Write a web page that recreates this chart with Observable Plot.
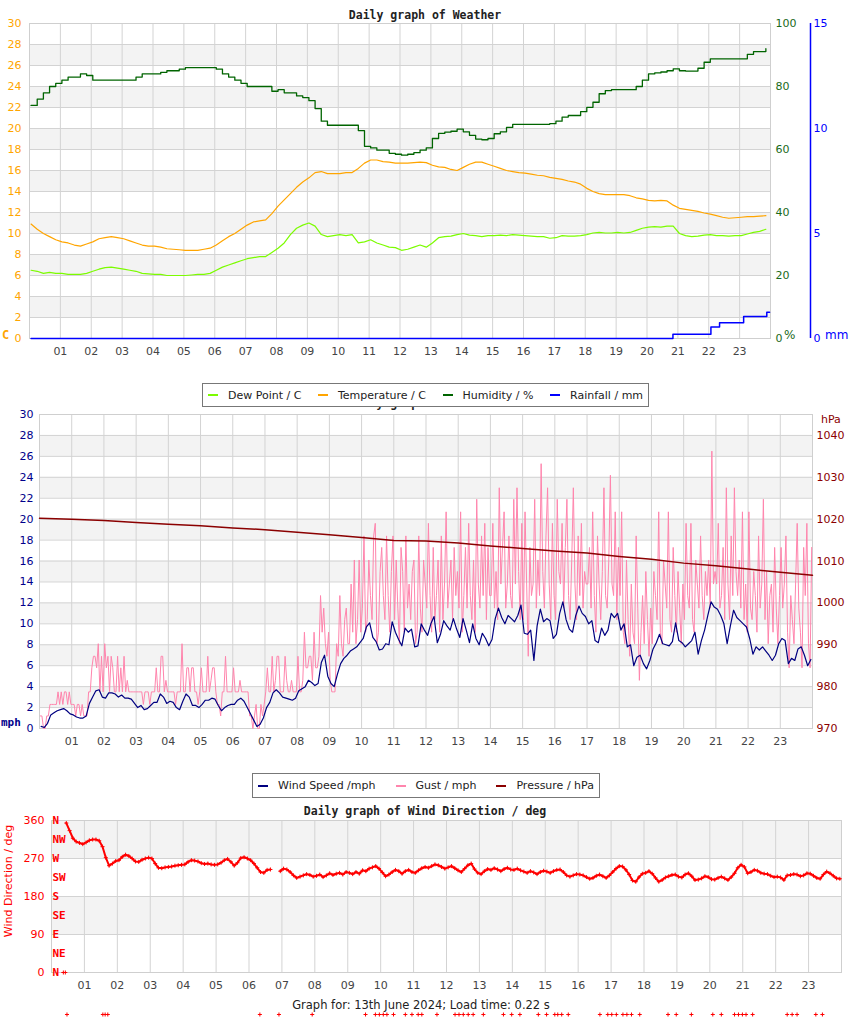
<!DOCTYPE html>
<html>
<head>
<meta charset="utf-8">
<script src="https://cdn.jsdelivr.net/npm/d3@7"></script>
<script src="https://cdn.jsdelivr.net/npm/@observablehq/plot@0.6"></script>
<style>
  body { margin: 0; background: white; }
  #root { position: relative; width: 850px; height: 1017px; overflow: hidden; background: white; font-family: "DejaVu Sans", sans-serif; }
  #root svg { position: absolute; left: 0; }
  .abs { position: absolute; white-space: nowrap; line-height: 1; }
  .legend { position: absolute; display: flex; align-items: center; border: 1px solid #777; background: white; font-size: 11px; color: #222; padding: 0 5px; box-sizing: border-box; z-index: 5; }
  .legend .sw { display: inline-block; width: 10px; height: 2px; margin-right: 10px; }
  .legend .it { display: flex; align-items: center; }
</style>
</head>
<body>
<div id="root"></div>
<script>
// ---------------- DATA ----------------
const hourTicks = [1,2,3,4,5,6,7,8,9,10,11,12,13,14,15,16,17,18,19,20,21,22,23];

// Chart 1: weather (samples every 0.2 h starting at 0.05 h)
const wxStart = 0.05, wxStep = 0.2;
const temperature = [
  10.9,10.4,10.0,9.7,9.4,   9.2,9.1,8.9,8.8,9.0,   9.2,9.5,9.6,9.7,9.6,   9.5,9.3,9.1,8.9,8.8,
  8.8,8.7,8.55,8.5,8.45,   8.4,8.4,8.4,8.5,8.6,   8.9,9.3,9.7,10.0,10.4,   10.8,11.1,11.2,11.3,11.9,
  12.6,13.2,13.8,14.4,14.9,   15.3,15.8,15.9,15.7,15.7,   15.7,15.8,15.8,16.2,16.7,   17.0,17.0,16.85,16.8,16.7,
  16.7,16.7,16.75,16.8,16.75,   16.5,16.35,16.3,16.1,16.0,   16.3,16.6,16.8,16.8,16.6,   16.4,16.2,16.0,15.9,15.8,
  15.75,15.65,15.55,15.5,15.35,   15.25,15.15,15.0,14.9,14.7,   14.3,14.0,13.8,13.7,13.7,   13.7,13.7,13.6,13.4,13.3,
  13.15,13.1,13.15,13.1,12.7,   12.4,12.3,12.2,12.1,11.95,   11.85,11.7,11.55,11.45,11.5,   11.55,11.6,11.6,11.65,11.7
];
const dewPoint = [
  6.5,6.4,6.2,6.3,6.2,   6.2,6.1,6.1,6.1,6.2,   6.4,6.6,6.75,6.8,6.7,   6.6,6.5,6.4,6.2,6.15,
  6.1,6.1,6.0,6.0,6.0,   6.0,6.05,6.1,6.1,6.2,   6.5,6.8,7.0,7.2,7.4,   7.6,7.7,7.8,7.8,8.2,
  8.6,9.1,9.9,10.5,10.8,   11.0,10.7,9.9,9.7,9.8,   9.9,9.8,9.9,9.1,9.2,   9.4,9.1,8.9,8.7,8.65,
  8.4,8.5,8.7,8.9,8.7,   9.1,9.6,9.7,9.75,9.9,   10.0,9.85,9.8,9.7,9.8,   9.8,9.85,9.8,9.9,9.85,
  9.8,9.75,9.7,9.7,9.55,   9.6,9.8,9.75,9.75,9.8,   9.9,10.05,10.1,10.05,10.05,   10.1,10.05,10.1,10.3,10.5,
  10.6,10.65,10.6,10.7,10.7,   10.0,9.8,9.7,9.75,9.85,   9.9,9.8,9.8,9.75,9.8,   9.8,9.95,10.1,10.2,10.4
];
const humidity = [
  74,76,78,80,81,   82,83,83,84,83.5,   82,82,82,82,82,   82,82,83,84,84,
  84,84.5,85,85,85.5,   86,86,86,86,86,   85.5,84,83,82,81,   80,80,80,80,78.5,
  79,78,78,77,76.5,   75.5,73,69,67.7,67.7,   67.7,67.7,67.7,66,61,   60.5,59.8,59.8,58.8,58.5,
  58.2,58.5,59,59.8,60.5,   63.5,65.1,65.5,65.8,66.5,   65.6,64.5,63.3,63.1,63.5,   65,65.6,67,68,68,
  68,68,68,68,68.2,   69,70.3,70.8,70.8,72,   73.4,75,77.7,78.7,79,   79,79,79,80,82,
  84,84.3,84.6,85,85.6,   85,84.9,84.9,85.8,87.7,   88.8,88.8,88.8,88.8,88.8,   88.8,90.2,91.1,91.1,92
];
const rainHours = [0.05, 20.84, 22.07, 22.35, 23.13, 23.88, 23.97];
const rainMm    = [0,    0.2,   0.55,  0.75,  1.05,  1.25,  1.25];

const tempTicks = [0,2,4,6,8,10,12,14,16,18,20,22,24,26,28,30];
const humTicks = [0,20,40,60,80,100];
const rainTicks = [0,5,10,15];

// Chart 2: wind speed (samples every 0.1 h starting at 0.05 h)
const windStart = 0.05, windStep = 0.1;
const windSpeed = [
  0.2,0.1,0.5,1.3,1.5,1.7,1.8,1.9,1.7,1.4,
  1.3,1.1,1.0,1.0,1.2,2.4,3.0,3.6,3.7,3.0,
  2.9,3.4,3.4,3.3,3.0,3.2,2.9,2.9,2.8,2.4,
  2.0,2.2,1.8,1.9,2.2,2.5,2.5,3.3,3.0,2.4,
  2.6,2.5,2.0,1.8,2.6,3.3,3.0,2.2,2.2,2.0,
  2.3,2.7,2.7,2.9,2.8,2.2,1.7,2.0,2.2,2.3,
  2.3,2.7,2.9,2.6,2.0,1.4,0.8,0.2,0.4,1.0,
  2.0,2.5,3.4,3.7,3.4,3.0,2.9,2.8,2.7,2.9,
  3.6,3.8,4.0,4.6,4.4,4.1,4.3,6.3,7.0,5.0,
  4.3,4.0,5.2,6.2,6.7,7.0,7.4,7.6,7.8,8.2,
  8.6,9.7,10.1,8.7,8.3,7.5,7.6,8.1,8.0,10.2,
  9.2,8.5,7.9,9.6,9.2,9.5,7.8,7.9,10.0,9.4,
  8.9,10.0,10.7,8.2,9.0,10.3,9.8,9.4,10.5,9.5,
  8.7,10.5,9.4,8.2,10.0,8.6,8.0,9.1,8.6,7.9,
  8.5,10.5,11.5,10.6,10.0,10.8,10.5,10.2,10.8,11.8,
  9.1,9.0,9.4,6.5,9.8,11.4,10.2,10.5,10.3,8.6,
  9.0,11.0,12.1,10.4,9.5,9.2,10.8,11.7,11.0,10.7,
  10.0,10.3,8.4,8.2,9.6,8.9,9.4,11.0,10.6,11.0,
  9.4,10.0,7.8,8.0,6.0,6.8,7.0,6.2,5.7,6.5,
  7.6,8.2,9.0,8.1,8.0,7.9,8.3,10.1,8.4,8.2,
  7.8,8.1,8.4,9.2,7.1,8.4,9.4,10.8,12.1,11.6,
  11.4,10.8,10.0,8.1,9.8,11.3,10.6,10.3,10.0,9.7,
  8.6,7.1,7.8,7.5,7.8,7.4,7.0,6.5,7.0,8.1,
  8.6,8.4,6.2,6.7,6.5,7.6,7.8,7.0,6.0,6.6
];
// Gust (samples every 0.05 h starting at 0.025 h), one row per hour
const gustStart = 0.025, gustStep = 0.05;
const gust = [
  1.2,1.2,0,0,1.2,1.2,2.3,2.3,2.3,2.3, 2.3,3.5,2.3,3.5,2.3,3.5,3.5,2.3,3.5,2.3,
  2.3,2.3,1.2,2.3,2.3,1.2,2.3,1.2,1.2,1.2, 3.5,3.5,5.8,6.9,6.9,5.8,8.1,3.5,6.9,3.5,
  8.1,5.8,6.9,3.5,6.9,5.8,3.5,3.5,6.9,3.5, 5.8,3.5,6.9,3.5,4.6,3.5,3.5,3.5,3.5,3.5,
  3.5,3.5,3.5,3.5,2.3,3.5,3.5,3.5,2.3,3.5, 3.5,3.5,5.8,3.5,3.5,6.9,6.9,3.5,4.6,3.5,
  3.5,3.5,3.5,3.5,2.3,3.5,3.5,3.5,8.1,3.5, 3.5,5.8,5.8,3.5,5.8,5.8,3.5,3.5,2.3,3.5,
  5.8,3.5,3.5,3.5,6.9,3.5,4.6,5.8,5.8,3.5, 2.3,2.3,1.2,3.5,3.5,6.9,3.5,3.5,3.5,3.5,
  5.8,3.5,3.5,3.5,4.6,3.5,3.5,3.5,3.5,3.5, 1.2,1.2,0,1.2,2.3,0,0,2.3,1.2,2.3,
  3.5,5.8,3.5,3.5,6.9,3.5,4.6,6.9,6.9,3.5, 3.5,3.5,6.9,4.6,3.5,3.5,4.6,3.5,3.5,3.5,
  6.9,3.5,3.5,4.6,9.2,5.8,5.8,6.9,6.9,4.6, 9.2,5.8,5.8,6.9,12.7,9.2,11.5,8.1,6.9,9.2,
  4.6,3.5,3.5,3.5,8.1,6.9,12.7,8.1,6.9,10.4, 11.5,8.1,8.1,13.8,9.2,16.1,8.1,10.4,16.1,9.2,
  11.5,18.4,9.2,10.4,16.1,12.7,10.4,18.4,19.6,8.1, 9.2,15.0,17.3,12.7,10.4,18.4,12.7,9.2,15.0,18.4,
  10.4,16.1,11.5,8.1,17.3,15.0,9.2,18.4,11.5,13.8, 10.4,15.0,16.1,8.1,9.2,18.4,11.5,9.2,16.1,13.8,
  11.5,19.6,12.7,9.2,17.3,10.4,12.7,16.1,9.2,18.4, 10.4,13.8,20.7,11.5,13.8,16.1,10.4,17.3,12.7,15.0,
  11.5,20.7,9.2,12.7,17.3,11.5,19.6,12.7,10.4,16.1, 9.2,21.9,13.8,11.5,18.4,12.7,19.6,10.4,17.3,12.7,
  12.7,19.6,11.5,15.0,10.4,23.0,13.8,17.3,20.7,11.5, 13.8,18.4,12.7,11.5,21.9,13.8,23.0,15.0,10.4,19.6,
  10.4,20.7,13.8,6.9,17.3,12.7,13.8,21.9,11.5,16.1, 12.7,25.3,15.0,11.5,18.4,23.0,13.8,10.4,19.6,12.7,
  10.4,21.9,15.0,13.8,19.6,11.5,17.3,21.9,12.7,10.4, 16.1,23.0,13.8,10.4,18.4,12.7,19.6,11.5,15.0,13.8,
  13.8,17.3,11.5,20.7,12.7,9.2,18.4,13.8,10.4,15.0, 23.0,12.7,11.5,16.1,24.2,13.8,12.7,20.7,10.4,17.3,
  12.7,20.7,9.2,8.1,16.1,10.4,6.9,13.8,9.2,8.1, 18.4,11.5,4.6,9.2,12.7,8.1,15.0,10.4,6.9,11.5,
  8.1,15.0,12.7,10.4,20.7,9.2,8.1,16.1,13.8,11.5, 20.7,10.4,9.2,17.3,12.7,9.2,15.0,11.5,8.1,13.8,
  10.4,19.6,12.7,11.5,19.6,10.4,9.2,16.1,13.8,11.5, 18.4,12.7,10.4,15.0,12.7,16.1,11.5,26.5,13.8,15.0,
  13.8,19.6,11.5,12.7,17.3,10.4,23.0,13.8,10.4,18.4, 12.7,23.0,15.0,12.7,16.1,11.5,20.7,10.4,13.8,9.2,
  20.7,11.5,10.4,15.0,12.7,9.2,18.4,11.5,13.8,21.9, 10.4,15.0,8.1,12.7,13.8,9.2,17.3,11.5,8.1,12.7,
  17.3,11.5,13.8,18.4,9.2,5.8,12.7,10.4,8.1,13.8, 19.6,11.5,9.2,5.8,17.3,12.7,19.6,8.1,5.8,17.3
];
// pressure, hourly 0..24
const pressure = [1020.2,1020.0,1019.7,1019.2,1018.8,1018.4,1017.9,1017.5,1016.9,1016.3,1015.6,1014.9,1014.8,
                  1014.3,1013.6,1013.0,1012.4,1011.9,1011.1,1010.4,1009.5,1008.9,1008.1,1007.3,1006.6];
const mphTicks = [0,2,4,6,8,10,12,14,16,18,20,22,24,26,28,30];
const hPaTicks = [970,980,990,1000,1010,1020,1030,1040];

// Chart 3: wind direction (samples every 0.1 h starting at 0.05 h)
const dirStart = 0.05, dirStep = 0.1;
const windDir = [
  null,null,null,null,354,336,318,310,307,304,
  308,313,315,315,312,298,272,253,258,264,
  266,274,279,276,270,263,262,267,270,272,
  270,258,248,247,249,250,251,253,254,255,
  256,262,266,265,263,259,257,258,256,255,
  256,260,266,269,262,253,260,271,273,270,
  266,258,248,238,236,243,244,null,null,240,
  246,244,238,230,224,227,230,233,231,227,
  229,232,226,230,235,231,234,236,232,238,
  236,233,238,234,242,240,246,249,252,246,
  237,228,232,238,243,240,234,240,243,238,
  236,242,247,250,248,252,256,254,250,246,
  249,252,247,242,238,246,254,258,245,236,
  233,240,245,243,247,244,240,245,248,244,
  243,246,242,239,236,240,237,233,238,241,
  239,236,240,243,244,238,230,227,230,233,
  232,230,226,222,224,229,232,228,224,230,
  238,246,252,251,243,232,218,215,226,234,
  236,240,234,224,215,219,225,228,231,232,
  227,225,232,235,228,219,220,223,228,226,
  221,220,224,227,223,219,226,235,248,255,
  250,235,238,243,241,236,234,233,229,226,
  227,225,219,230,231,233,232,228,230,235,
  234,229,224,222,232,239,235,229,223,222
];
const calmAtZeroHours = [0.36, 0.42];
const calmHours = [0.47,1.56,1.63,1.71,6.33,6.91,7.92,9.54,9.84,9.96,10.08,10.19,10.39,10.75,10.95,11.14,11.25,
  11.71,12.26,12.38,12.51,12.66,12.81,13.12,13.73,13.98,14.23,14.79,15.04,15.29,15.38,15.5,15.7,16.66,16.9,
  17.02,17.16,17.36,17.48,17.62,17.87,18.73,18.98,19.44,20.09,20.35,20.75,20.87,20.99,21.1,21.3,22.35,22.5,
  22.65,23.22,23.42];
const dirTicks = [0,90,180,270,360];
const compass = ["N","NE","E","SE","S","SW","W","NW","N"];

// ---------------- BUILD ----------------
const series = (start, step, vals) => vals.map((v, i) => ({h: start + i * step, v}));
const tempS = series(wxStart, wxStep, temperature);
const dewS = series(wxStart, wxStep, dewPoint);
const humS = series(wxStart, wxStep, humidity);
const rainS = rainHours.map((h, i) => ({h, v: rainMm[i]}));
const windS = series(windStart, windStep, windSpeed);
const gustS = series(gustStart, gustStep, gust);
const presS = pressure.map((v, i) => ({h: i, v}));
const dirAll = series(dirStart, dirStep, windDir);
const dirS = dirAll.filter(d => d.v !== null);
// leading nulls removed for the line, interior nulls kept so the line breaks at the gap
const dirLine = dirAll.slice(dirAll.findIndex(d => d.v !== null));

const bandsFrom = (ticks, every) => ticks.slice(0, -1).map((t, i) => [t, ticks[i + 1], i]).filter(d => d[2] % 2 === every);
const hourFmt = d => String(d).padStart(2, "0");
const gridStroke = "#d3d3d3";
const baseStyle = {fontFamily: "DejaVu Sans, sans-serif", fontSize: "11px", background: "transparent", overflow: "visible"};

const root = document.getElementById("root");
function place(svg, top) { svg.style.top = top + "px"; root.appendChild(svg); }

// Chart 1
const c1 = Plot.plot({
  width: 850, height: 370, marginTop: 23, marginBottom: 32, marginLeft: 29, marginRight: 80,
  style: baseStyle,
  x: {domain: [0, 24]},
  y: {domain: [0, 30], label: null},
  marks: [
    Plot.rect(bandsFrom(tempTicks, 1), {x1: 0, x2: 24, y1: d => d[0], y2: d => d[1], fill: "#f3f3f3"}),
    Plot.gridY(tempTicks, {stroke: gridStroke, strokeOpacity: 1}),
    Plot.gridX(hourTicks, {stroke: gridStroke, strokeOpacity: 1}),
    Plot.frame({stroke: "#cfcfcf"}),
    Plot.axisY(tempTicks, {anchor: "left", tickSize: 0, tickPadding: 8, color: "#ffa500", label: null}),
    Plot.axisY(humTicks.map(h => h * 0.3), {anchor: "right", tickSize: 0, tickPadding: 5, color: "#1a6b1a", tickFormat: d => String(Math.round(d / 0.3)), label: null}),
    Plot.axisY(rainTicks.map(r => r * 2), {anchor: "right", tickSize: 0, tickPadding: 3, dx: 40, color: "#0000ff", tickFormat: d => String(d / 2), label: null}),
    Plot.ruleX([24], {y1: 0, y2: 30, dx: 40, stroke: "#0000ff", strokeWidth: 1.5}),
    Plot.axisX(hourTicks, {anchor: "bottom", tickSize: 0, tickPadding: 9, color: "#444", tickFormat: hourFmt, label: null}),
    Plot.line(dewS, {x: "h", y: "v", stroke: "#7cfc00", strokeWidth: 1.2}),
    Plot.line(tempS, {x: "h", y: "v", stroke: "#ffa500", strokeWidth: 1.2}),
    Plot.line(humS, {x: "h", y: d => d.v * 0.3, stroke: "#006400", strokeWidth: 1.3, curve: "step-after"}),
    Plot.line(rainS, {x: "h", y: d => d.v * 2, stroke: "#0000ff", strokeWidth: 1.5, curve: "step-after"})
  ]
});
place(c1, 0);

// Chart 2
const c2 = Plot.plot({
  width: 850, height: 370, marginTop: 23, marginBottom: 33, marginLeft: 39, marginRight: 38,
  style: baseStyle,
  x: {domain: [0, 24]},
  y: {domain: [0, 30], label: null},
  marks: [
    Plot.rect(bandsFrom(mphTicks, 1), {x1: 0, x2: 24, y1: d => d[0], y2: d => d[1], fill: "#f3f3f3"}),
    Plot.gridY(mphTicks, {stroke: gridStroke, strokeOpacity: 1}),
    Plot.gridX(hourTicks, {stroke: gridStroke, strokeOpacity: 1}),
    Plot.frame({stroke: "#cfcfcf"}),
    Plot.axisY(mphTicks, {anchor: "left", tickSize: 0, tickPadding: 6, color: "#00008b", label: null}),
    Plot.axisY(hPaTicks.map(p => (p - 970) * 0.4), {anchor: "right", tickSize: 0, tickPadding: 4, color: "#8b0000", tickFormat: d => String(Math.round(d / 0.4 + 970)), label: null}),
    Plot.axisX(hourTicks, {anchor: "bottom", tickSize: 0, tickPadding: 9, color: "#444", tickFormat: hourFmt, label: null}),
    Plot.line(gustS, {x: "h", y: "v", stroke: "#ff85ad", strokeWidth: 1}),
    Plot.line(windS, {x: "h", y: "v", stroke: "#000080", strokeWidth: 1.2}),
    Plot.line(presS, {x: "h", y: d => (d.v - 970) * 0.4, stroke: "#8b0000", strokeWidth: 1.5})
  ]
});
place(c2, 391);

// Chart 3
const c3 = Plot.plot({
  width: 850, height: 217, marginTop: 20, marginBottom: 45, marginLeft: 51, marginRight: 9,
  style: baseStyle,
  x: {domain: [0, 24]},
  y: {domain: [0, 360], label: null},
  marks: [
    Plot.rect(bandsFrom(dirTicks, 1), {x1: 0, x2: 24, y1: d => d[0], y2: d => d[1], fill: "#f3f3f3"}),
    Plot.gridY(dirTicks, {stroke: gridStroke, strokeOpacity: 1}),
    Plot.gridX(hourTicks, {stroke: gridStroke, strokeOpacity: 1}),
    Plot.frame({stroke: "#cfcfcf"}),
    Plot.axisY(dirTicks, {anchor: "left", tickSize: 0, tickPadding: 7, color: "#ff0000", label: null}),
    Plot.axisX(hourTicks, {anchor: "bottom", tickSize: 0, tickPadding: 9, color: "#444", tickFormat: hourFmt, label: null}),
    Plot.text(compass, {frameAnchor: "left", y: (d, i) => i * 45, text: d => d, textAnchor: "start", dx: 1,
      fill: "#ff0000", fontWeight: "bold", fontFamily: "DejaVu Sans Mono, monospace", fontSize: 11}),
    Plot.line(dirLine, {x: "h", y: "v", stroke: "#ff0000", strokeWidth: 2}),
    Plot.dot(dirS, {x: "h", y: "v", symbol: "plus", r: 1.4, stroke: "#ff0000", strokeWidth: 1}),
    Plot.dot(calmAtZeroHours, {x: d => d, y: 0, symbol: "plus", r: 1.4, stroke: "#ff0000", strokeWidth: 1}),
    Plot.dot(calmHours, {x: d => d, y: 0, dy: 42, symbol: "plus", r: 1.4, stroke: "#ff0000", strokeWidth: 1})
  ]
});
place(c3, 800);

// ---------------- HTML texts / legends ----------------
function addText(html, style) {
  const d = document.createElement("div");
  d.className = "abs";
  d.innerHTML = html;
  Object.assign(d.style, style);
  root.appendChild(d);
  return d;
}
const titleFont = "bold 11.5px 'DejaVu Sans Mono', monospace";
addText("Daily graph of Weather", {left: "0", width: "850px", textAlign: "center", top: "8px", font: titleFont, color: "#222"});
addText("Daily graph of Weather", {left: "0", width: "850px", textAlign: "center", top: "396px", font: titleFont, color: "#222"});
addText("Daily graph of Wind Direction / deg", {left: "0", width: "850px", textAlign: "center", top: "804px", font: titleFont, color: "#222", zIndex: 3});

addText("C", {left: "2px", top: "328px", font: "bold 12px 'DejaVu Sans Mono', monospace", color: "#ffa500"});
addText("%", {left: "784px", top: "328px", font: "12px 'DejaVu Sans', sans-serif", color: "#1a6b1a"});
addText("mm", {left: "825px", top: "328px", font: "12px 'DejaVu Sans', sans-serif", color: "#0000ff"});
addText("hPa", {left: "821px", top: "413px", font: "11px 'DejaVu Sans', sans-serif", color: "#8b0000"});
addText("mph", {left: "1px", top: "716px", font: "bold 11px 'DejaVu Sans Mono', monospace", color: "#00008b"});
addText("Wind Direction / deg", {left: "8px", top: "881px", font: "11px 'DejaVu Sans', sans-serif", color: "#ff0000",
  transform: "translate(-50%, -50%) rotate(-90deg)", transformOrigin: "center"});
addText("Graph for: 13th June 2024; Load time: 0.22 s", {left: "0", width: "842px", textAlign: "center", top: "998px", font: "11.5px 'DejaVu Sans', sans-serif", color: "#222"});

function legend(items, left, top, height, gap) {
  const d = document.createElement("div");
  d.className = "legend";
  Object.assign(d.style, {left: left + "px", top: top + "px", height: height + "px"});
  items.forEach(([label, color], i) => {
    const it = document.createElement("span");
    it.className = "it";
    if (i < items.length - 1) it.style.marginRight = gap + "px";
    it.innerHTML = `<span class="sw" style="background:${color}"></span><span>${label}</span>`;
    d.appendChild(it);
  });
  root.appendChild(d);
}
legend([["Dew Point / C", "#7cfc00"], ["Temperature / C", "#ffa500"], ["Humidity / %", "#006400"], ["Rainfall / mm", "#0000ff"]], 202, 383, 24, 16.5);
legend([["Wind Speed /mph", "#000080"], ["Gust / mph", "#ff85ad"], ["Pressure / hPa", "#8b0000"]], 252, 773, 25, 20);
</script>
</body>
</html>
